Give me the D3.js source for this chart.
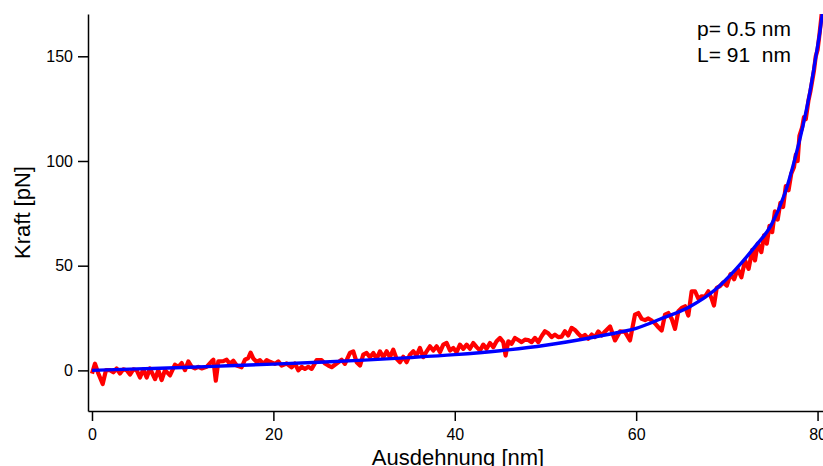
<!DOCTYPE html>
<html>
<head>
<meta charset="utf-8">
<script src="https://cdn.jsdelivr.net/npm/d3@7"></script>
<style>
  html, body { margin: 0; padding: 0; background: #fff; }
  svg { display: block; }
  text { font-family: "Liberation Sans", Arial, sans-serif; fill: #000; }
</style>
</head>
<body>
<svg id="chart" width="823" height="466"></svg>
<script>
// Measured force–extension trace (extension in nm, force in pN)
const traceExt = [
  0, 0.33, 0.70, 1.18, 1.54, 1.98, 2.35, 2.72, 3.09, 3.45, 3.82, 4.19, 4.56, 4.92, 5.29, 5.66,
  6.03, 6.39, 6.95, 7.31, 7.68, 8.05, 8.60, 9.15, 9.52, 9.89, 10.25, 10.62, 10.99, 11.36, 11.72,
  12.09, 12.64, 13.19, 13.38, 13.65, 13.93, 14.48, 14.85, 15.21, 15.58, 15.95, 16.50, 16.87,
  17.23, 17.49, 17.78, 18.15, 18.52, 18.89, 19.26, 19.62, 20.18, 20.54, 20.91, 21.46, 22.01,
  22.38, 22.75, 23.11, 23.48, 23.85, 24.22, 24.77, 25.32, 25.69, 26.06, 26.42, 26.97, 27.53,
  27.89, 28.44, 28.81, 29.18, 29.55, 29.91, 30.28, 30.65, 31.02, 31.38, 31.75, 32.12, 32.49,
  32.85, 33.22, 33.59, 33.96, 34.32, 34.69, 35.06, 35.43, 35.79, 36.16, 36.53, 36.90, 37.26,
  37.63, 38.00, 38.37, 38.73, 39.10, 39.47, 39.84, 40.20, 40.57, 40.94, 41.31, 41.67, 42.04,
  42.41, 42.78, 43.14, 43.51, 43.88, 44.25, 44.61, 44.98, 45.35, 45.60, 45.90, 46.27, 46.63,
  47.00, 47.37, 47.74, 48.10, 48.47, 48.84, 49.21, 49.57, 49.94, 50.31, 50.68, 51.04, 51.41,
  51.78, 52.15, 52.51, 52.88, 53.25, 53.62, 53.98, 54.35, 54.72, 55.10, 55.46, 55.83, 56.20,
  56.57, 57.12, 57.67, 58.22, 58.77, 59.32, 59.87, 60.24, 60.61, 60.98, 61.34, 61.71, 62.08,
  62.45, 62.81, 63.18, 63.55, 63.92, 64.28, 64.65, 65.02, 65.39, 65.75, 66.12, 66.49, 66.86,
  67.22, 67.59, 67.96, 68.33, 68.58, 68.88, 69.24, 69.6, 70.0, 70.4, 70.8, 71.2, 71.6, 72.0,
  72.4, 72.8, 73.1, 73.4, 73.8, 74.1, 74.4, 74.7, 75.0, 75.3, 75.6, 75.9, 76.2, 76.5, 76.8,
  77.1, 77.4, 77.6, 77.8, 78.0, 78.3, 78.5, 78.7, 79.0, 79.2, 79.4, 79.6, 79.8, 80.0, 80.2,
  80.4, 80.5
];
const traceForce = [
  -1.5, 3.2, -1.5, -6.5, 0.1, 0.1, -0.9, 0.9, -1.5, 0.5, 0.1, -2.0, 0.5, 0.1, -3.4, 0.5,
  -3.4, 0.9, -4.2, 0.1, -4.6, 0.1, -2.4, 2.7, 1.7, 3.5, 0.1, 4.3, 1.7, 0.9, 1.7,
  0.9, 1.7, 4.3, 5.1, -4.9, 4.3, 4.4, 5.1, 3.1, 4.6, 2.3, 1.5, 5.1,
  5.9, 8.5, 5.7, 4.1, 4.9, 3.1, 4.9, 4.1, 3.1, 4.3, 2.3, 3.3, 1.5,
  3.3, 0.0, 1.7, 0.7, 1.7, 0.7, 4.9, 4.9, 3.3, 2.3, 1.5, 3.3, 5.1,
  3.1, 8.3, 9.1, 3.9, 2.3, 7.5, 8.3, 6.3, 8.3, 5.5, 9.1, 6.3, 9.1,
  6.3, 9.9, 5.5, 3.9, 6.5, 3.9, 7.5, 9.1, 7.1, 10.7, 6.3, 9.1, 11.5,
  9.5, 11.5, 8.7, 12.3, 13.1, 9.5, 10.7, 8.7, 12.3, 10.3, 12.3, 10.3, 13.1,
  11.1, 9.5, 12.3, 10.3, 13.1, 11.1, 13.9, 15.5, 13.5, 7.1, 13.9, 12.7, 15.5,
  14.5, 13.5, 14.7, 14.5, 13.5, 15.5, 13.5, 16.3, 18.7, 17.7, 15.9, 17.1, 15.9,
  16.1, 18.7, 16.7, 20.3, 19.3, 17.5, 15.9, 16.9, 15.1, 17.1, 15.9, 18.6, 16.7,
  18.6, 21.0, 14.3, 18.6, 18.4, 14.3, 26.6, 27.4, 24.6, 24.0, 24.8, 23.8, 22.4,
  20.6, 19.0, 26.6, 27.4, 24.6, 19.8, 28.2, 29.8, 30.6, 26.2, 37.8, 37.8, 34.2,
  35.4, 35.2, 37.8, 34.2, 31.0, 39.4, 40.2, 42, 40.5, 46, 43.5, 48.5, 44.5, 52.5,
  48.5, 57.5, 52.5, 60.5, 56.5, 64.5, 60.5, 69, 66, 76, 72, 80, 78, 88, 86,
  94, 97, 103, 100, 112, 116, 121, 120, 129, 133, 138, 143, 150, 153, 160,
  168, 172
];

// Worm-like-chain fit curve (extension in nm, force in pN)
const fitExt = [0, 5, 10, 15, 20, 25, 30, 35, 40, 45, 50, 55, 58, 60, 62.6, 65.9, 68.7,
  70.9, 73.1, 74.9, 76.4, 77.5, 78.4, 79.2, 79.7, 80.3, 80.6];
const fitForce = [0, 0.7, 1.4, 2.2, 3.0, 3.9, 4.9, 6.1, 7.5, 9.4, 12.0, 15.6, 18.1, 20.1, 24.4,
  30.4, 38.5, 47.9, 59.1, 69.5, 84.6, 101, 117, 134, 147, 163, 173];

const xTicks = [0, 20, 40, 60, 80];
const yTicks = [0, 50, 100, 150];
const fitLabels = ["p= 0.5 nm", "L= 91  nm"];

const svg = d3.select("#chart");
const plotLeft = 88, plotRight = 823, plotTop = 14, plotBottom = 411;

const x = d3.scaleLinear().domain([-0.44, 80.6]).range([plotLeft, plotRight]);
const y = d3.scaleLinear().domain([-19.4, 170.2]).range([plotBottom, plotTop]);

svg.append("defs").append("clipPath").attr("id", "plotClip")
  .append("rect").attr("x", plotLeft).attr("y", plotTop)
  .attr("width", plotRight - plotLeft).attr("height", plotBottom - plotTop);

const plot = svg.append("g").attr("clip-path", "url(#plotClip)");

const trace = traceExt.map((e, i) => [e, traceForce[i]]);
const fit = fitExt.map((e, i) => [e, fitForce[i]]);

plot.append("path")
  .datum(trace)
  .attr("fill", "none")
  .attr("stroke", "#ff0000")
  .attr("stroke-width", 4.2)
  .attr("stroke-linejoin", "round")
  .attr("d", d3.line().x(d => x(d[0])).y(d => y(d[1])));

plot.append("path")
  .datum(fit)
  .attr("fill", "none")
  .attr("stroke", "#0000ff")
  .attr("stroke-width", 3.4)
  .attr("d", d3.line().x(d => x(d[0])).y(d => y(d[1])).curve(d3.curveMonotoneX));

// Axes
const yAxis = svg.append("g")
  .attr("transform", `translate(${plotLeft},0)`)
  .call(d3.axisLeft(y).tickValues(yTicks).tickSize(10).tickSizeOuter(0).tickPadding(5));
const xAxis = svg.append("g")
  .attr("transform", `translate(0,${plotBottom})`)
  .call(d3.axisBottom(x).tickValues(xTicks).tickSize(10).tickSizeOuter(0).tickPadding(8));

[yAxis, xAxis].forEach(g => {
  g.selectAll("path.domain").attr("stroke", "#000").attr("stroke-width", 1.5);
  g.selectAll(".tick line").attr("stroke", "#000").attr("stroke-width", 1.5);
  g.selectAll(".tick text")
    .style("font-family", "'Liberation Sans', Arial, sans-serif")
    .style("font-size", "16px")
    .attr("fill", "#000");
});

// Axis titles
svg.append("text")
  .attr("transform", `translate(30,${(plotTop + plotBottom) / 2}) rotate(-90)`)
  .attr("text-anchor", "middle")
  .style("font-size", "22px")
  .text("Kraft [pN]");

svg.append("text")
  .attr("x", 458)
  .attr("y", 465)
  .attr("text-anchor", "middle")
  .style("font-size", "22px")
  .text("Ausdehnung [nm]");

// Fit parameters
svg.append("g").selectAll("text")
  .data(fitLabels)
  .join("text")
  .attr("x", 697)
  .attr("y", (d, i) => 36 + i * 26)
  .attr("xml:space", "preserve")
  .style("white-space", "pre")
  .style("font-size", "21px")
  .text(d => d);
</script>
</body>
</html>
